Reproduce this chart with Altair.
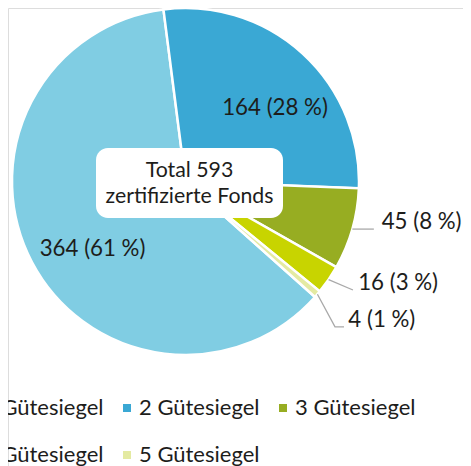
import math
import pandas as pd
import altair as alt

# ---- data -------------------------------------------------------------
categories = ["1 Gütesiegel", "2 Gütesiegel", "3 Gütesiegel", "4 Gütesiegel", "5 Gütesiegel"]
counts = [364, 164, 45, 16, 4]
colors = ["#80CDE3", "#3AA8D4", "#97AD22", "#C8D400", "#E4EAA2"]
clockwise_rank = [5, 1, 2, 3, 4]          # drawing order, clockwise from the top
center_caption = "zertifizierte Fonds"

# ---- layout -----------------------------------------------------------
FONT = "Lato"
TXT = "#1d1d1b"
START_DEG = -7.3
cx, cy, R = 177.5, 173.5, 173.5
# leader layout for outside labels: (elbow radius, elbow angle offset, tail, text gap)
leader = {
    "3 Gütesiegel": (1.0, 0.0, 0.124, 0.045),
    "4 Gütesiegel": (1.150, -1.5, 0.0, 0.03),
    "5 Gütesiegel": (1.202, 3.7, 0.052, 0.025),
}

total = sum(counts)
pcts = [round(v * 100 / total) for v in counts]
labels = [f"{v} ({p}\u202f%)" for v, p in zip(counts, pcts)]
inside = [v / total > 0.2 for v in counts]

pie_df = pd.DataFrame({
    "cat": categories,
    "count": counts,
    "rank": clockwise_rank,
    "inner_label": [l if i else "" for l, i in zip(labels, inside)],
})

# mid angles of slices (derived from the data)
mid = {}
acc = START_DEG
for idx in sorted(range(len(categories)), key=lambda i: clockwise_rank[i]):
    span = counts[idx] / total * 360
    mid[categories[idx]] = acc + span / 2
    acc += span


def polar(r, deg):
    a = math.radians(deg)
    return r * math.sin(a), -r * math.cos(a)


line_rows, text_rows = [], []
for cat, lab in zip(categories, labels):
    if cat not in leader:
        continue
    er, da, tail, gap = leader[cat]
    p0 = polar(1.0, mid[cat])
    p1 = polar(er, mid[cat] + da) if er != 1.0 else p0
    p2 = (p1[0] + tail, p1[1])
    for k, p in enumerate([p0, p1, p2]):
        line_rows.append({"cat": cat, "pt": k, "ux": p[0], "uy": p[1]})
    text_rows.append({"cat": cat, "label": lab, "ux": p2[0] + gap, "uy": p2[1]})

lines_df = pd.DataFrame(line_rows)
outer_df = pd.DataFrame(text_rows)

xs = alt.Scale(domain=[-1, 1], range=[cx - R, cx + R], nice=False, zero=False)
ys = alt.Scale(domain=[-1, 1], range=[cy - R, cy + R], nice=False, zero=False)

s0 = math.radians(START_DEG)
base = alt.Chart(pie_df).encode(
    theta=alt.Theta("count:Q", stack=True, scale=alt.Scale(range=[s0, s0 + 2 * math.pi])),
    order=alt.Order("rank:Q"),
)

arc = base.mark_arc(radius=R, stroke="white", strokeWidth=2.5).encode(
    color=alt.Color(
        "cat:N",
        scale=alt.Scale(domain=categories, range=colors),
        legend=alt.Legend(
            orient="none", legendX=-48, legendY=389, columns=3, direction="horizontal",
            title=None,
            symbolType="square", symbolSize=64, symbolStrokeWidth=0,
            labelFontSize=22, labelFont=FONT, labelColor=TXT, labelOffset=1,
            rowPadding=25, columnPadding=12, padding=0,
        ),
    ),
    x=alt.value(cx),
    y=alt.value(cy),
)

inner = base.mark_text(radius=117, dx=10.5, dy=13, fontSize=22.3, font=FONT, color=TXT).encode(
    text="inner_label:N", x=alt.value(cx), y=alt.value(cy)
)

box = alt.Chart(pd.DataFrame({"k": [0]})).mark_rect(cornerRadius=12, color="white").encode(
    x=alt.value(88), x2=alt.value(275), y=alt.value(140), y2=alt.value(210)
)

center = alt.Chart(pd.DataFrame({"t": [f"Total {total}\n{center_caption}"]})).mark_text(
    fontSize=21.3, font=FONT, color=TXT, lineBreak="\n", lineHeight=26, align="center", baseline="middle"
).encode(text="t:N", x=alt.value(181.5), y=alt.value(163))

lines = alt.Chart(lines_df).mark_line(color="#a9a9a9", strokeWidth=1.3).encode(
    x=alt.X("ux:Q", scale=xs, axis=None),
    y=alt.Y("uy:Q", scale=ys, axis=None),
    detail="cat:N",
    order="pt:Q",
)

outer = alt.Chart(outer_df).mark_text(
    align="left", baseline="alphabetic", fontSize=22.3, font=FONT, color=TXT
).encode(
    x=alt.X("ux:Q", scale=xs, axis=None),
    y=alt.Y("uy:Q", scale=ys, axis=None),
    text="label:N",
)

chart = alt.layer(arc, inner, box, center, lines, outer).properties(
    width=455, height=458, padding=0, autosize="none"
).configure_view(stroke=None).configure(font=FONT)

chart.save("out.html", embed_options={"renderer": "svg", "actions": False})
